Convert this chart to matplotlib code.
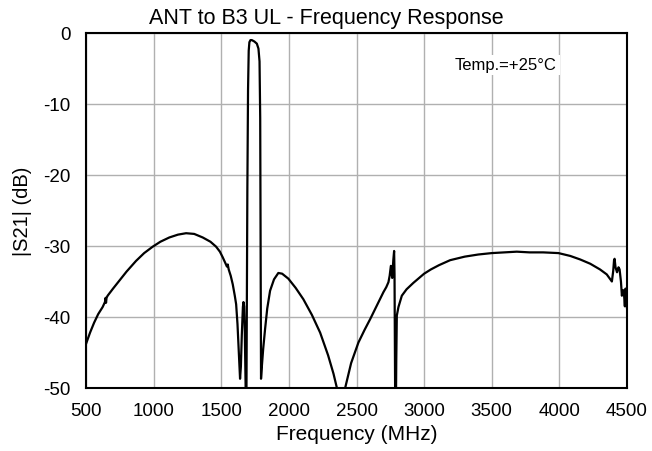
import matplotlib
matplotlib.use("Agg")
import matplotlib.pyplot as plt

plt.rcParams['font.family'] = ['Liberation Sans', 'DejaVu Sans']
plt.rcParams['axes.unicode_minus'] = False

freq_mhz = [500, 530, 560, 590, 623, 640, 645, 648, 652, 660, 700, 746, 800,
            870, 930, 993, 1050, 1116, 1180, 1240, 1300, 1363, 1420, 1462,
            1490, 1511, 1530, 1542, 1548, 1555, 1570, 1585, 1600, 1610, 1620,
            1630, 1639, 1645, 1652, 1660, 1664, 1669, 1674, 1680, 1685, 1689,
            1693, 1698, 1703, 1708, 1716, 1726, 1745, 1763, 1775, 1783, 1788,
            1791, 1794, 1800, 1810, 1824, 1840, 1861, 1890, 1922, 1950, 1996,
            2050, 2107, 2170, 2231, 2290, 2330, 2354, 2380, 2416, 2460, 2514,
            2560, 2601, 2650, 2699, 2720, 2736, 2745, 2754, 2764, 2772, 2778,
            2781, 2784, 2787, 2790, 2794, 2798, 2810, 2835, 2870, 2920, 2970,
            3000, 3050, 3110, 3192, 3300, 3400, 3500, 3600, 3685, 3780, 3880,
            3993, 4080, 4154, 4228, 4300, 4350, 4388, 4398, 4404, 4408, 4415,
            4426, 4437, 4445, 4455, 4462, 4470, 4477, 4484, 4489, 4494, 4500]
s21_db = [-43.8, -42.2, -40.8, -39.6, -38.6, -37.9, -37.3, -38.0, -37.3,
          -37.0, -36.0, -34.9, -33.6, -32.1, -31.0, -30.1, -29.4, -28.8,
          -28.4, -28.2, -28.3, -28.8, -29.4, -30.1, -30.8, -31.6, -32.4,
          -32.9, -32.6, -33.3, -34.2, -35.4, -37.0, -38.2, -41.0, -45.0,
          -48.7, -47.0, -42.5, -38.6, -37.9, -38.5, -42.0, -50.0, -56.0,
          -40.0, -22.0, -8.0, -2.5, -1.3, -1.0, -1.0, -1.2, -1.5, -2.2, -4.0,
          -12.0, -30.0, -48.7, -47.0, -44.5, -41.7, -38.8, -36.3, -34.7,
          -33.8, -33.9, -34.6, -35.9, -37.5, -39.7, -42.2, -45.4, -48.0,
          -49.9, -52.0, -50.0, -46.5, -43.6, -41.8, -40.3, -38.4, -36.5,
          -35.8, -35.1, -34.2, -32.8, -34.5, -32.0, -30.7, -34.0, -45.0,
          -56.0, -56.0, -46.0, -39.8, -38.6, -37.0, -36.1, -35.2, -34.4,
          -33.9, -33.3, -32.7, -32.0, -31.5, -31.2, -31.0, -30.9, -30.8,
          -30.9, -30.9, -31.0, -31.4, -31.9, -32.5, -33.3, -34.0, -35.0,
          -33.5, -32.0, -31.8, -33.0, -33.7, -33.0, -33.3, -35.0, -37.0,
          -36.2, -36.6, -38.5, -36.0, -37.5, -38.8]

x_ticks = [500, 1000, 1500, 2000, 2500, 3000, 3500, 4000, 4500]
y_ticks = [0, -10, -20, -30, -40, -50]

fig = plt.figure(figsize=(6.52, 4.52), dpi=100)
ax = fig.add_axes([0.1319, 0.1394, 0.8298, 0.7854])

ax.plot(freq_mhz, s21_db, color="black", linewidth=1.6)

ax.set_xlim(500, 4500)
ax.set_ylim(-50, 0)
ax.set_xticks(x_ticks)
ax.set_yticks(y_ticks)
ax.grid(True, color="#b0b0b0", linewidth=1.0)
ax.set_axisbelow(True)
ax.tick_params(length=0, labelsize=13.5)
ax.tick_params(axis="y", pad=11)
ax.tick_params(axis="x", pad=10)
for sp in ax.spines.values():
    sp.set_linewidth(1.5)
    sp.set_zorder(5)

fig.text(0.5, 0.958, "ANT to B3 UL - Frequency Response", fontsize=15.5,
         ha="center", va="center")
ax.set_xlabel("Frequency (MHz)", fontsize=15, labelpad=4)
ax.set_ylabel("|S21| (dB)", fontsize=14.5, labelpad=8)

ax.text(0.682, 0.91, "Temp.=+25\u00b0C", transform=ax.transAxes, fontsize=12,
        va="center", ha="left",
        bbox=dict(facecolor="white", edgecolor="none", pad=2))

fig.savefig("out.png", dpi=100)
